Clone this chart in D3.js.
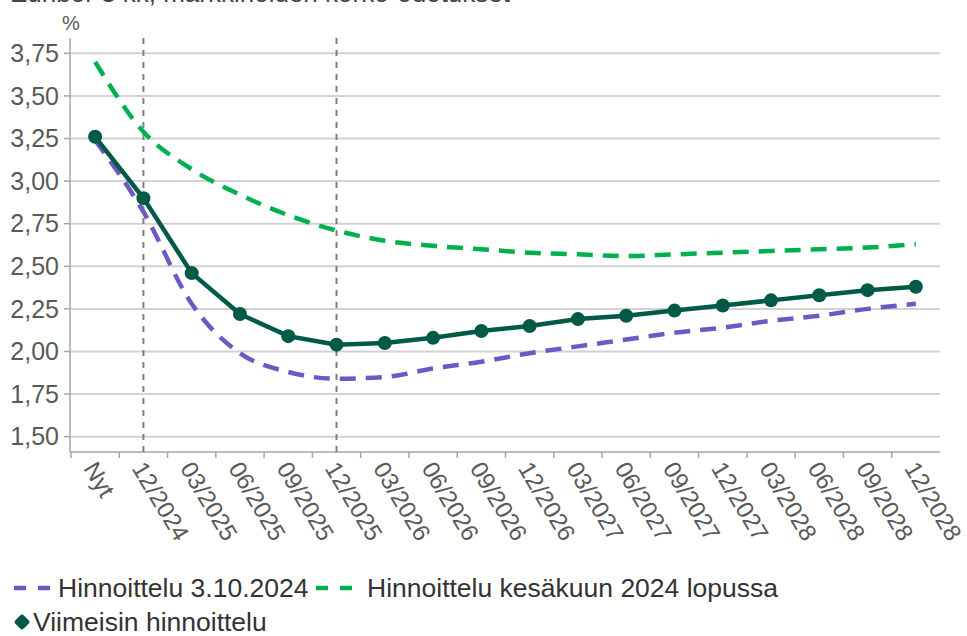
<!DOCTYPE html>
<html>
<head>
<meta charset="utf-8">
<script src="https://cdn.jsdelivr.net/npm/d3@7"></script>
<style>
  body { margin: 0; background: #fff; }
  svg { display: block; font-family: "Liberation Sans", Arial, sans-serif; }
</style>
</head>
<body>
<svg id="chart"></svg>
<script>
// kvartaalit
var categories = ["Nyt", "12/2024", "03/2025", "06/2025", "09/2025", "12/2025", "03/2026", "06/2026",
    "09/2026", "12/2026", "03/2027", "06/2027", "09/2027", "12/2027", "03/2028", "06/2028", "09/2028", "12/2028"];

var viimeisin = [3.26, 2.90, 2.46, 2.22, 2.09, 2.04, 2.05, 2.08, 2.12, 2.15, 2.19, 2.21, 2.24, 2.27, 2.30, 2.33, 2.36, 2.38];
var lokakuu = [3.24, 2.82, 2.28, 1.99, 1.88, 1.84, 1.85, 1.90, 1.94, 1.99, 2.03, 2.07, 2.11, 2.14, 2.18, 2.21, 2.25, 2.28];
var kesakuu = [3.70, 3.29, 3.07, 2.92, 2.80, 2.71, 2.65, 2.62, 2.60, 2.58, 2.57, 2.56, 2.57, 2.58, 2.59, 2.60, 2.61, 2.63];

var yTicks = [1.50, 1.75, 2.00, 2.25, 2.50, 2.75, 3.00, 3.25, 3.50, 3.75];
var markedCats = ["12/2024", "12/2025"];

var legendNames = ["Hinnoittelu 3.10.2024", "Hinnoittelu kesäkuun 2024 lopussa", "Viimeisin hinnoittelu"];

var width = 967,
    height = 636;

var colPurple = "#6b5ac6",
    colGreen = "#00b04f",
    colDark = "#005a45";

var svg = d3.select("#chart")
    .attr("width", width)
    .attr("height", height);

var x = d3.scaleBand()
    .domain(categories)
    .range([71, 940]);

var y = d3.scaleLinear()
    .domain([1.41, 3.84])
    .range([452, 38]);

var fmt = function (v) { return d3.format(".2f")(v).replace(".", ","); };

// otsikko, leikkautuu yläreunasta kuten alkuperäisessä
svg.append("text")
    .attr("x", 10)
    .attr("y", 2)
    .attr("font-size", 26)
    .attr("fill", "#444")
    .text("Euribor 3 kk, markkinoiden korko-odotukset");

// gridlines
svg.selectAll(".grid")
    .data(yTicks)
    .enter()
    .append("line")
    .attr("x1", 70)
    .attr("x2", 940)
    .attr("y1", function (d) { return y(d); })
    .attr("y2", function (d) { return y(d); })
    .attr("stroke", "#d2d2d2")
    .attr("stroke-width", 2);

// y axis
svg.append("line")
    .attr("x1", 70).attr("x2", 70)
    .attr("y1", y(3.84)).attr("y2", y(1.41))
    .attr("stroke", "#a6a6a6")
    .attr("stroke-width", 1.5);

svg.selectAll(".ytick")
    .data(yTicks)
    .enter()
    .append("line")
    .attr("x1", 64).attr("x2", 70)
    .attr("y1", function (d) { return y(d); })
    .attr("y2", function (d) { return y(d); })
    .attr("stroke", "#a6a6a6")
    .attr("stroke-width", 1.5);

svg.selectAll(".ylabel")
    .data(yTicks)
    .enter()
    .append("text")
    .attr("x", 59)
    .attr("y", function (d) { return y(d); })
    .attr("dy", "0.35em")
    .attr("text-anchor", "end")
    .attr("font-size", 25)
    .attr("fill", "#595959")
    .text(fmt);

svg.append("text")
    .attr("x", 71)
    .attr("y", 30)
    .attr("text-anchor", "middle")
    .attr("font-size", 20)
    .attr("fill", "#595959")
    .text("%");

// x axis
svg.append("line")
    .attr("x1", 70).attr("x2", 940)
    .attr("y1", y(1.41)).attr("y2", y(1.41))
    .attr("stroke", "#a6a6a6")
    .attr("stroke-width", 1.5);

svg.selectAll(".xtick")
    .data(categories)
    .enter()
    .append("line")
    .attr("x1", function (d) { return x(d); })
    .attr("x2", function (d) { return x(d); })
    .attr("y1", y(1.41))
    .attr("y2", y(1.41) + 6)
    .attr("stroke", "#a6a6a6")
    .attr("stroke-width", 1.5);

svg.selectAll(".xlabel")
    .data(categories)
    .enter()
    .append("text")
    .attr("transform", function (d) {
        return "translate(" + (x(d) + x.bandwidth() / 2 - 5) + "," + (y(1.41) + 12) + ") rotate(59)";
    })
    .attr("dy", "0.35em")
    .attr("font-size", 24)
    .attr("fill", "#595959")
    .text(function (d) { return d; });

// pystyviivat
svg.selectAll(".vmark")
    .data(markedCats)
    .enter()
    .append("line")
    .attr("x1", function (d) { return x(d) + x.bandwidth() / 2; })
    .attr("x2", function (d) { return x(d) + x.bandwidth() / 2; })
    .attr("y1", y(3.84))
    .attr("y2", y(1.41))
    .attr("stroke", "#7f7f7f")
    .attr("stroke-width", 2)
    .attr("stroke-dasharray", "6,6");

var cx = function (d, i) { return x(categories[i]) + x.bandwidth() / 2; };

var smooth = d3.line()
    .x(cx)
    .y(function (d) { return y(d); })
    .curve(d3.curveMonotoneX);

var straight = d3.line()
    .x(cx)
    .y(function (d) { return y(d); });

svg.append("path")
    .datum(lokakuu)
    .attr("d", smooth)
    .attr("fill", "none")
    .attr("stroke", colPurple)
    .attr("stroke-width", 4.5)
    .attr("stroke-dasharray", "16,10");

svg.append("path")
    .datum(kesakuu)
    .attr("d", smooth)
    .attr("fill", "none")
    .attr("stroke", colGreen)
    .attr("stroke-width", 4.5)
    .attr("stroke-dasharray", "16,10");

svg.append("path")
    .datum(viimeisin)
    .attr("d", straight)
    .attr("fill", "none")
    .attr("stroke", colDark)
    .attr("stroke-width", 4.5);

svg.selectAll(".dot")
    .data(viimeisin)
    .enter()
    .append("circle")
    .attr("cx", cx)
    .attr("cy", function (d) { return y(d); })
    .attr("r", 7)
    .attr("fill", colDark);

// legend
var leg = svg.append("g").attr("font-size", 26.5).attr("fill", "#333");

leg.append("line")
    .attr("x1", 14).attr("x2", 57)
    .attr("y1", 588).attr("y2", 588)
    .attr("stroke", colPurple)
    .attr("stroke-width", 4.5)
    .attr("stroke-dasharray", "12,12");
leg.append("text")
    .attr("x", 58).attr("y", 588).attr("dy", "0.35em")
    .text(legendNames[0]);

leg.append("line")
    .attr("x1", 316).attr("x2", 363)
    .attr("y1", 588).attr("y2", 588)
    .attr("stroke", colGreen)
    .attr("stroke-width", 4.5)
    .attr("stroke-dasharray", "12,12");
leg.append("text")
    .attr("x", 367).attr("y", 588).attr("dy", "0.35em")
    .text(legendNames[1]);

leg.append("rect")
    .attr("x", -6).attr("y", -6)
    .attr("width", 12).attr("height", 12)
    .attr("rx", 3)
    .attr("transform", "translate(22,622) rotate(45)")
    .attr("fill", colDark);
leg.append("text")
    .attr("x", 33).attr("y", 622).attr("dy", "0.35em")
    .text(legendNames[2]);
</script>
</body>
</html>
